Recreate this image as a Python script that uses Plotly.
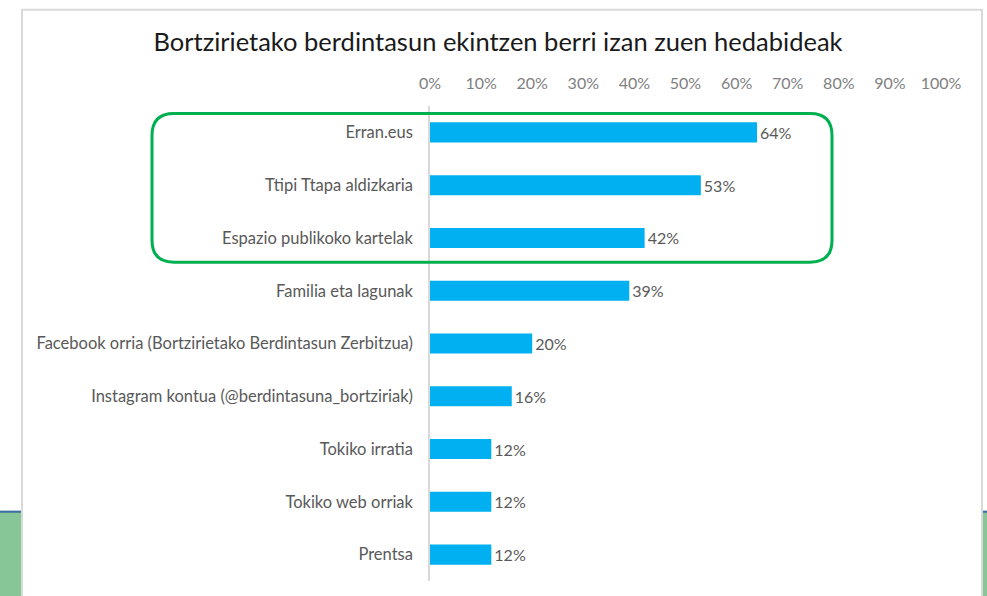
import plotly.graph_objects as go

categories = [
    "Erran.eus",
    "Ttipi Ttapa aldizkaria",
    "Espazio publikoko kartelak",
    "Familia eta lagunak",
    "Facebook orria (Bortzirietako Berdintasun Zerbitzua)",
    "Instagram kontua (@berdintasuna_bortziriak)",
    "Tokiko irratia",
    "Tokiko web orriak",
    "Prentsa",
]
values = [0.64, 0.53, 0.42, 0.39, 0.20, 0.16, 0.12, 0.12, 0.12]
labels = ["64%", "53%", "42%", "39%", "20%", "16%", "12%", "12%", "12%"]
title = "Bortzirietako berdintasun ekintzen berri izan zuen hedabideak"

W, H = 987, 596
L, R, T, B = 430, 46, 105.5, 14.5
PW, PH = W - L - R, H - T - B

def px(x):
    return (x - L) / PW

def py(y):
    return (H - B - y) / PH

fig = go.Figure()
fig.add_trace(go.Bar(
    x=values, y=categories, orientation="h",
    marker=dict(color="#00B0F0", line=dict(width=0)),
    text=labels, textposition="outside", cliponaxis=False,
    textfont=dict(family="Lato", size=16, color="#595959"),
    width=0.38,
))

shapes = []
# slide background green band
shapes.append(dict(type="rect", xref="paper", yref="paper", x0=px(-5), x1=px(W + 5), y0=py(H + 5), y1=py(511),
                   fillcolor="#86C697", line=dict(width=0), layer="below"))
shapes.append(dict(type="rect", xref="paper", yref="paper", x0=px(-5), x1=px(W + 5), y0=py(513), y1=py(511),
                   fillcolor="#3E6DA5", line=dict(width=0), layer="below"))
# white chart area with border
shapes.append(dict(type="rect", xref="paper", yref="paper", x0=px(22), x1=px(982), y0=py(H + 10), y1=py(9),
                   fillcolor="white", line=dict(color="#D9D9D9", width=2), layer="below"))
# green rounded highlight
x0, x1, y0, y1, r = px(152), px(832), py(262), py(113), 22
rx, ry = r / PW, r / PH
path = (f"M {x0+rx},{y1} L {x1-rx},{y1} Q {x1},{y1} {x1},{y1-ry} "
        f"L {x1},{y0+ry} Q {x1},{y0} {x1-rx},{y0} L {x0+rx},{y0} "
        f"Q {x0},{y0} {x0},{y0+ry} L {x0},{y1-ry} Q {x0},{y1} {x0+rx},{y1} Z")
shapes.append(dict(type="path", xref="paper", yref="paper", path=path,
                   line=dict(color="#00B050", width=3), layer="above"))

fig.update_layout(
    width=W, height=H, autosize=False,
    margin=dict(l=L, r=R, t=T, b=B, pad=0),
    paper_bgcolor="white", plot_bgcolor="rgba(0,0,0,0)",
    showlegend=False,
    shapes=shapes,
    title=dict(text=title, xref="container", x=498 / W, xanchor="center",
               yref="container", y=1 - 42 / H, yanchor="middle",
               font=dict(family="Lato", size=25.5, color="#1a1a1a")),
    bargap=0.62,
    xaxis=dict(range=[0, 1], side="top", tickformat=".0%", dtick=0.1, showgrid=False,
               zeroline=False, showline=False, ticks="",
               tickfont=dict(family="Lato", size=16, color="#808080"), ticklabelstandoff=13),
    yaxis=dict(autorange="reversed", showgrid=False, zeroline=False, showline=True,
               linecolor="#D9D9D9", linewidth=1.5, ticks="",
               tickfont=dict(family="Lato", size=16.5, color="#595959"), ticklabelstandoff=12),
)

fig.write_html("out.html", config={"displayModeBar": False},
               post_script="document.body.style.margin='0';document.body.style.overflow='hidden';")
